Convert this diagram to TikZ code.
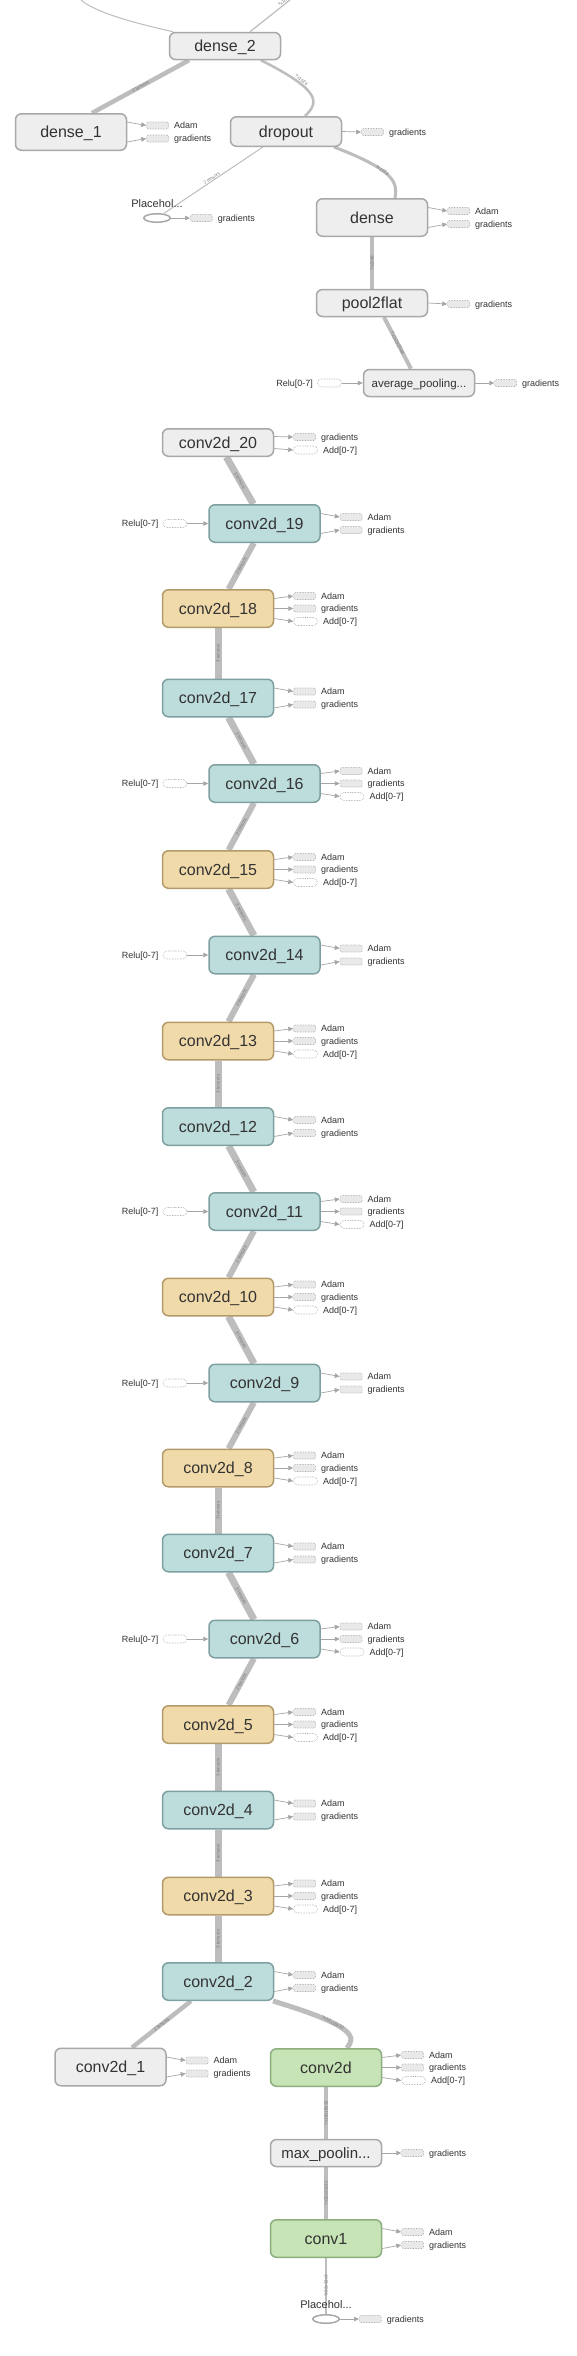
\documentclass[tikz,border=0pt]{standalone}
\usepackage{fontspec}
\setmainfont{Liberation Sans}
\usetikzlibrary{arrows.meta,shapes.misc,shapes.geometric,calc}
\pgfdeclarelayer{bg}
\pgfsetlayers{bg,main}
\definecolor{txt}{HTML}{333333}
\definecolor{grayfill}{HTML}{EEEEEE}
\definecolor{graydraw}{HTML}{A8A8A8}
\definecolor{tealfill}{HTML}{BDDCDC}
\definecolor{tealdraw}{HTML}{7FA0A0}
\definecolor{tanfill}{HTML}{F1DAAA}
\definecolor{tandraw}{HTML}{B39A6A}
\definecolor{greenfill}{HTML}{C7E4B6}
\definecolor{greendraw}{HTML}{8DAE7D}
\definecolor{edgec}{HTML}{BDBDBD}
\definecolor{annc}{HTML}{A6A6A6}
\definecolor{annfill}{HTML}{E9E9E9}
\definecolor{labc}{HTML}{7A7A7A}
\tikzset{
  tbop/.style={rounded corners=6pt, line width=1.5pt, minimum width=111pt, minimum height=37.5pt,
    inner sep=0pt, font=\fontsize{16}{16}\selectfont, text=txt, text height=11.5pt, text depth=0pt},
  tbgray/.style={fill=grayfill, draw=graydraw},
  tbteal/.style={fill=tealfill, draw=tealdraw},
  tbtan/.style={fill=tanfill, draw=tandraw},
  tbgreen/.style={fill=greenfill, draw=greendraw},
  tbshort/.style={minimum height=27pt},
  tbph/.style={ellipse, draw=graydraw, fill=white, line width=1.5pt, minimum width=26.5pt,
    minimum height=8.5pt, inner sep=0pt,
    label={[font=\fontsize{11}{11}\selectfont, text=txt, inner sep=0pt, text depth=0pt, label distance=5.5pt]above:Placehol...}},
  annbox/.style={draw=annc, densely dotted, fill=annfill, rounded corners=2pt, minimum width=22pt,
    minimum height=7pt, inner sep=0pt, line width=0.6pt},
  annref/.style={rounded rectangle, draw=annc, densely dotted, fill=white, minimum width=24pt,
    minimum height=8pt, inner sep=0pt, line width=0.6pt},
  anntext/.style={font=\fontsize{9}{9}\selectfont, text=txt, inner sep=0pt, text height=6.5pt, text depth=0pt},
  annarrow/.style={draw=annc, line width=0.7pt, -{Triangle[length=5pt,width=4.5pt]}},
  mainedge/.style={draw=edgec, line width=7pt},
  midedge/.style={draw=edgec, line width=6pt},
  elabel/.style={font=\fontsize{4.5}{4.5}\selectfont, text=labc, sloped, midway, inner sep=0pt}
}
\newcommand\tbout[6]{%
  \node[#6, anchor=west] (#1#2) at ($(#1.east)+(19,#4)$) {};
  \node[anntext, anchor=west] (#1#2t) at ($(#1#2.east)+(5,0)$) {#5};
  \draw[annarrow] ($(#1.east)+(0,#3)$) -- (#1#2.west);
}
\newcommand\tbin[2]{%
  \node[annref, anchor=east] (#1in) at ($(#1.west)+(-21,0)$) {};
  \node[anntext, anchor=east] (#1int) at ($(#1in.west)+(-4,0)$) {#2};
  \draw[annarrow] (#1in.east) -- (#1.west);
}
\newcommand\twoann[1]{\tbout{#1}{a}{-10}{-6.5}{Adam}{annbox}\tbout{#1}{g}{10}{6.5}{gradients}{annbox}}
\newcommand\threeann[1]{\tbout{#1}{a}{-10}{-12.5}{Adam}{annbox}\tbout{#1}{g}{0}{0}{gradients}{annbox}\tbout{#1}{x}{10}{13}{Add[0-7]}{annref}}
\begin{document}
\begin{tikzpicture}[x=1pt,y=-1pt]
\begin{pgfonlayer}{bg}
\fill[white] (0,0) rectangle (576,2356);
\end{pgfonlayer}
\useasboundingbox (0,0) rectangle (576,2356);

% ---- top part ----
\node[tbop,tbgray,tbshort] (dense2) at (225,46) {dense\_2};
\node[tbop,tbgray,minimum height=36.5pt] (dense1) at (71,132) {dense\_1};
\node[tbop,tbgray,minimum height=29.5pt] (dropout) at (286,131.5) {dropout};
\node[tbph] (ph1) at (157,218) {};
\node[tbop,tbgray] (dense) at (372,217.5) {dense};
\node[tbop,tbgray,tbshort] (pool2flat) at (372,303) {pool2flat};
\node[tbop,tbgray,tbshort,font=\fontsize{11.5}{11.5}\selectfont,text height=8.5pt] (avgpool) at (419,383) {average\_pooling...};
\coordinate (topL) at (81,0);
\coordinate (topR) at (290,0);

% ---- conv chain ----
\node[tbop,tbgray,minimum height=27.5pt] (c20) at (218,442.5) {conv2d\_20};
\node[tbop,tbteal] (c19) at (264.5,523.5) {conv2d\_19};
\node[tbop,tbtan]  (c18) at (218,608.5) {conv2d\_18};
\node[tbop,tbteal] (c17) at (218,698) {conv2d\_17};
\node[tbop,tbteal] (c16) at (264.5,783.5) {conv2d\_16};
\node[tbop,tbtan]  (c15) at (218,869.5) {conv2d\_15};
\node[tbop,tbteal] (c14) at (264.5,955) {conv2d\_14};
\node[tbop,tbtan]  (c13) at (218,1041) {conv2d\_13};
\node[tbop,tbteal] (c12) at (218,1126.5) {conv2d\_12};
\node[tbop,tbteal] (c11) at (264.5,1211.5) {conv2d\_11};
\node[tbop,tbtan]  (c10) at (218,1297) {conv2d\_10};
\node[tbop,tbteal] (c9) at (264.5,1383) {conv2d\_9};
\node[tbop,tbtan]  (c8) at (218,1468) {conv2d\_8};
\node[tbop,tbteal] (c7) at (218,1553) {conv2d\_7};
\node[tbop,tbteal] (c6) at (264.5,1639) {conv2d\_6};
\node[tbop,tbtan]  (c5) at (218,1724.5) {conv2d\_5};
\node[tbop,tbteal] (c4) at (218,1810) {conv2d\_4};
\node[tbop,tbtan]  (c3) at (218,1896) {conv2d\_3};
\node[tbop,tbteal] (c2) at (218,1981.5) {conv2d\_2};
\node[tbop,tbgray] (c1) at (110.5,2067) {conv2d\_1};
\node[tbop,tbgreen] (c0) at (326,2067.5) {conv2d};
\node[tbop,tbgray,tbshort,font=\fontsize{15}{15}\selectfont] (maxp) at (326,2153) {max\_poolin...};
\node[tbop,tbgreen] (conv1) at (326,2238.5) {conv1};
\node[tbph] (ph2) at (326,2319) {};

% ---- edges ----
\begin{pgfonlayer}{bg}
\draw[draw=edgec, line width=1pt] ([xshift=-52pt]dense2.north) .. controls (130,22) and (95,12) .. (topL);
\draw[draw=edgec, line width=1.2pt] ([xshift=25pt]dense2.north) -- node[elabel,above=0.5pt,pos=0.85]{?x10} (topR);
\draw[draw=edgec, line width=4.5pt] ([xshift=21pt]dense1.north) -- node[elabel]{2 tensors} ([xshift=-36pt]dense2.south);
\draw[draw=edgec, line width=2.5pt] ([xshift=19pt]dropout.north) .. controls (320,102) and (320,90) .. node[elabel,pos=0.7,above=0.5pt]{?x1024} ([xshift=36pt]dense2.south);
\draw[draw=edgec, line width=3pt] ([xshift=23pt]dense.north) .. controls (398,182) and (394,170) .. node[elabel,pos=0.6]{?x1024} ([xshift=48pt]dropout.south);
\draw[draw=edgec, line width=1pt] (ph1) -- node[elabel,above=0.5pt]{2 tensors} (dropout);
\draw[draw=edgec, line width=4pt] (pool2flat) -- node[elabel]{?x2048} (dense);
\draw[draw=edgec, line width=4pt] ([xshift=-8pt]avgpool.north) -- node[elabel]{?x1x1x2048} ([xshift=12pt]pool2flat.south);

\draw[mainedge] (c19) -- node[elabel]{3 tensors} (c20);
\draw[midedge] (c18) -- node[elabel]{2 tensors} (c19);
\draw[mainedge] (c17) -- node[elabel]{3 tensors} (c18);
\draw[mainedge] (c16) -- node[elabel]{3 tensors} (c17);
\draw[midedge] (c15) -- node[elabel]{2 tensors} (c16);
\draw[mainedge] (c14) -- node[elabel]{3 tensors} (c15);
\draw[midedge] (c13) -- node[elabel]{2 tensors} (c14);
\draw[mainedge] (c12) -- node[elabel]{3 tensors} (c13);
\draw[mainedge] (c11) -- node[elabel]{3 tensors} (c12);
\draw[midedge] (c10) -- node[elabel]{2 tensors} (c11);
\draw[mainedge] (c9) -- node[elabel]{3 tensors} (c10);
\draw[midedge] (c8) -- node[elabel]{2 tensors} (c9);
\draw[mainedge] (c7) -- node[elabel]{3 tensors} (c8);
\draw[mainedge] (c6) -- node[elabel]{3 tensors} (c7);
\draw[midedge] (c5) -- node[elabel]{2 tensors} (c6);
\draw[mainedge] (c4) -- node[elabel]{3 tensors} (c5);
\draw[mainedge] (c3) -- node[elabel]{3 tensors} (c4);
\draw[mainedge] (c2) -- node[elabel]{3 tensors} (c3);

\draw[draw=edgec, line width=4.5pt] ([xshift=21.5pt]c1.north) -- node[elabel]{2 tensors} ([xshift=-27pt]c2.south);
\draw[draw=edgec, line width=5pt] ([xshift=21pt]c0.north) .. controls (356,2037) and (356,2026) .. node[elabel,pos=0.65]{?x16x16x32} ([xshift=55pt]c2.south);
\draw[draw=edgec, line width=3.5pt] (maxp) -- node[elabel]{?x16x16x32} (c0);
\draw[draw=edgec, line width=4pt] (conv1) -- node[elabel]{?x32x32x32} (maxp);
\draw[draw=edgec, line width=2.5pt] (ph2) -- node[elabel]{?x32x32x3} (conv1);
\end{pgfonlayer}

% ---- annotations ----
\twoann{dense1}
\tbout{dropout}{g}{0}{0.5}{gradients}{annbox}
\tbout{ph1}{g}{0}{0}{gradients}{annbox}
\twoann{dense}
\tbout{pool2flat}{g}{0}{1}{gradients}{annbox}
\tbout{avgpool}{g}{0}{0}{gradients}{annbox}
\tbin{avgpool}{Relu[0-7]}
\tbout{c20}{g}{-6}{-5.5}{gradients}{annbox}
\tbout{c20}{x}{6}{7.5}{Add[0-7]}{annref}
\twoann{c19}\tbin{c19}{Relu[0-7]}
\threeann{c18}
\twoann{c17}
\threeann{c16}\tbin{c16}{Relu[0-7]}
\threeann{c15}
\twoann{c14}\tbin{c14}{Relu[0-7]}
\threeann{c13}
\twoann{c12}
\threeann{c11}\tbin{c11}{Relu[0-7]}
\threeann{c10}
\twoann{c9}\tbin{c9}{Relu[0-7]}
\threeann{c8}
\twoann{c7}
\threeann{c6}\tbin{c6}{Relu[0-7]}
\threeann{c5}
\twoann{c4}
\threeann{c3}
\twoann{c2}
\twoann{c1}
\threeann{c0}
\tbout{maxp}{g}{0}{0}{gradients}{annbox}
\twoann{conv1}
\tbout{ph2}{g}{0}{0}{gradients}{annbox}
\end{tikzpicture}
\end{document}
